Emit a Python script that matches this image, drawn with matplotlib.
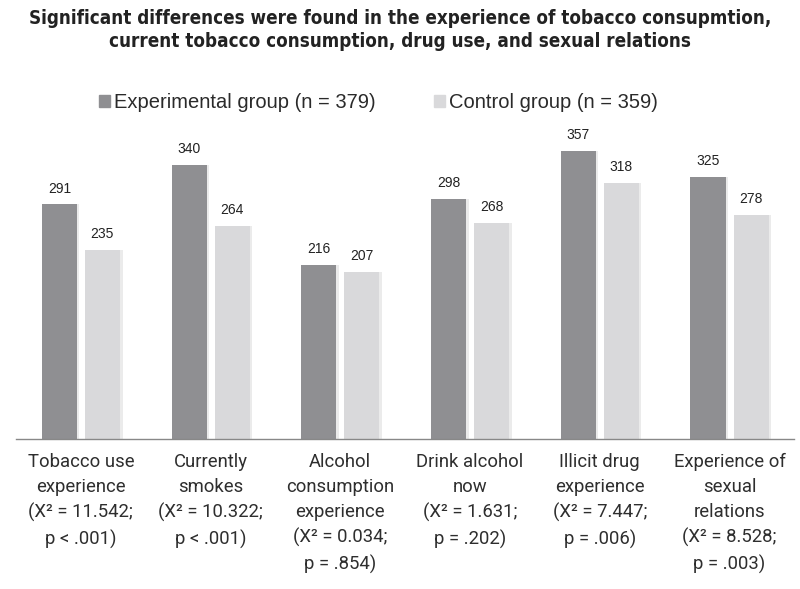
import matplotlib
matplotlib.use("Agg")
import matplotlib.pyplot as plt
import numpy as np
from matplotlib.patches import Patch
import matplotlib.transforms as mtransforms

categories = [
    "Tobacco use\nexperience\n(X\u00b2 = 11.542;\np < .001)",
    "Currently\nsmokes\n(X\u00b2 = 10.322;\np < .001)",
    "Alcohol\nconsumption\nexperience\n(X\u00b2 = 0.034;\np = .854)",
    "Drink alcohol\nnow\n(X\u00b2 = 1.631;\np = .202)",
    "Illicit drug\nexperience\n(X\u00b2 = 7.447;\np = .006)",
    "Experience of\nsexual\nrelations\n(X\u00b2 = 8.528;\np = .003)",
]
experimental = [291, 340, 216, 298, 357, 325]
control = [235, 264, 207, 268, 318, 278]
series_names = ["Experimental group (n = 379)", "Control group (n = 359)"]

dark = "#8f8f92"
light = "#d9d9db"

fig = plt.figure(figsize=(8, 5.89), dpi=100)
ax = fig.add_axes([0.02, 0.255, 0.973, 0.54])

x = np.arange(len(categories))
w = 0.27
off = 0.166

for xs, vals, col in [(x - off, experimental, dark), (x + off, control, light)]:
    # faint drop shadow behind each bar
    ax.bar(xs + 0.02, vals, width=w, color="#000000", alpha=0.08, zorder=1)
    bars = ax.bar(xs, vals, width=w, color=col, zorder=2)
    for b, v in zip(bars, vals):
        ax.text(b.get_x() + b.get_width() / 2, v + 11, str(v),
                ha="center", va="bottom", fontsize=10,
                family="Liberation Sans", color="#222222")

ax.set_xlim(-0.5, len(categories) - 0.5)
ax.set_ylim(0, 395)
ax.set_yticks([])
ax.set_xticks([])
for s in ["top", "right", "left"]:
    ax.spines[s].set_visible(False)
ax.spines["bottom"].set_color("#888888")
ax.spines["bottom"].set_linewidth(1)

# category labels below the baseline
trans = mtransforms.blended_transform_factory(ax.transData, ax.transAxes)
for xi, lab in zip(x, categories):
    ax.text(xi, -0.045, lab, transform=trans, ha="center", va="top",
            family="Roboto", fontsize=13.3,
            linespacing=1.49, color="#2e2e2e")

handles = [Patch(color=dark), Patch(color=light)]
fig.legend(handles, series_names, loc="center", bbox_to_anchor=(0.473, 0.826),
           ncol=2, frameon=False, handlelength=0.55, handleheight=0.55,
           handletextpad=0.2, columnspacing=2.9,
           labelcolor="#2a2a2a",
           prop={"family": "Liberation Sans", "size": 14.5})

fig.suptitle("Significant differences were found in the experience of tobacco consupmtion,\n"
             "current tobacco consumption, drug use, and sexual relations",
             y=0.985, fontsize=13.5, fontweight="bold", fontstretch="condensed",
             family="DejaVu Sans", color="#222222", linespacing=1.3)

fig.savefig("out.png", dpi=100)
